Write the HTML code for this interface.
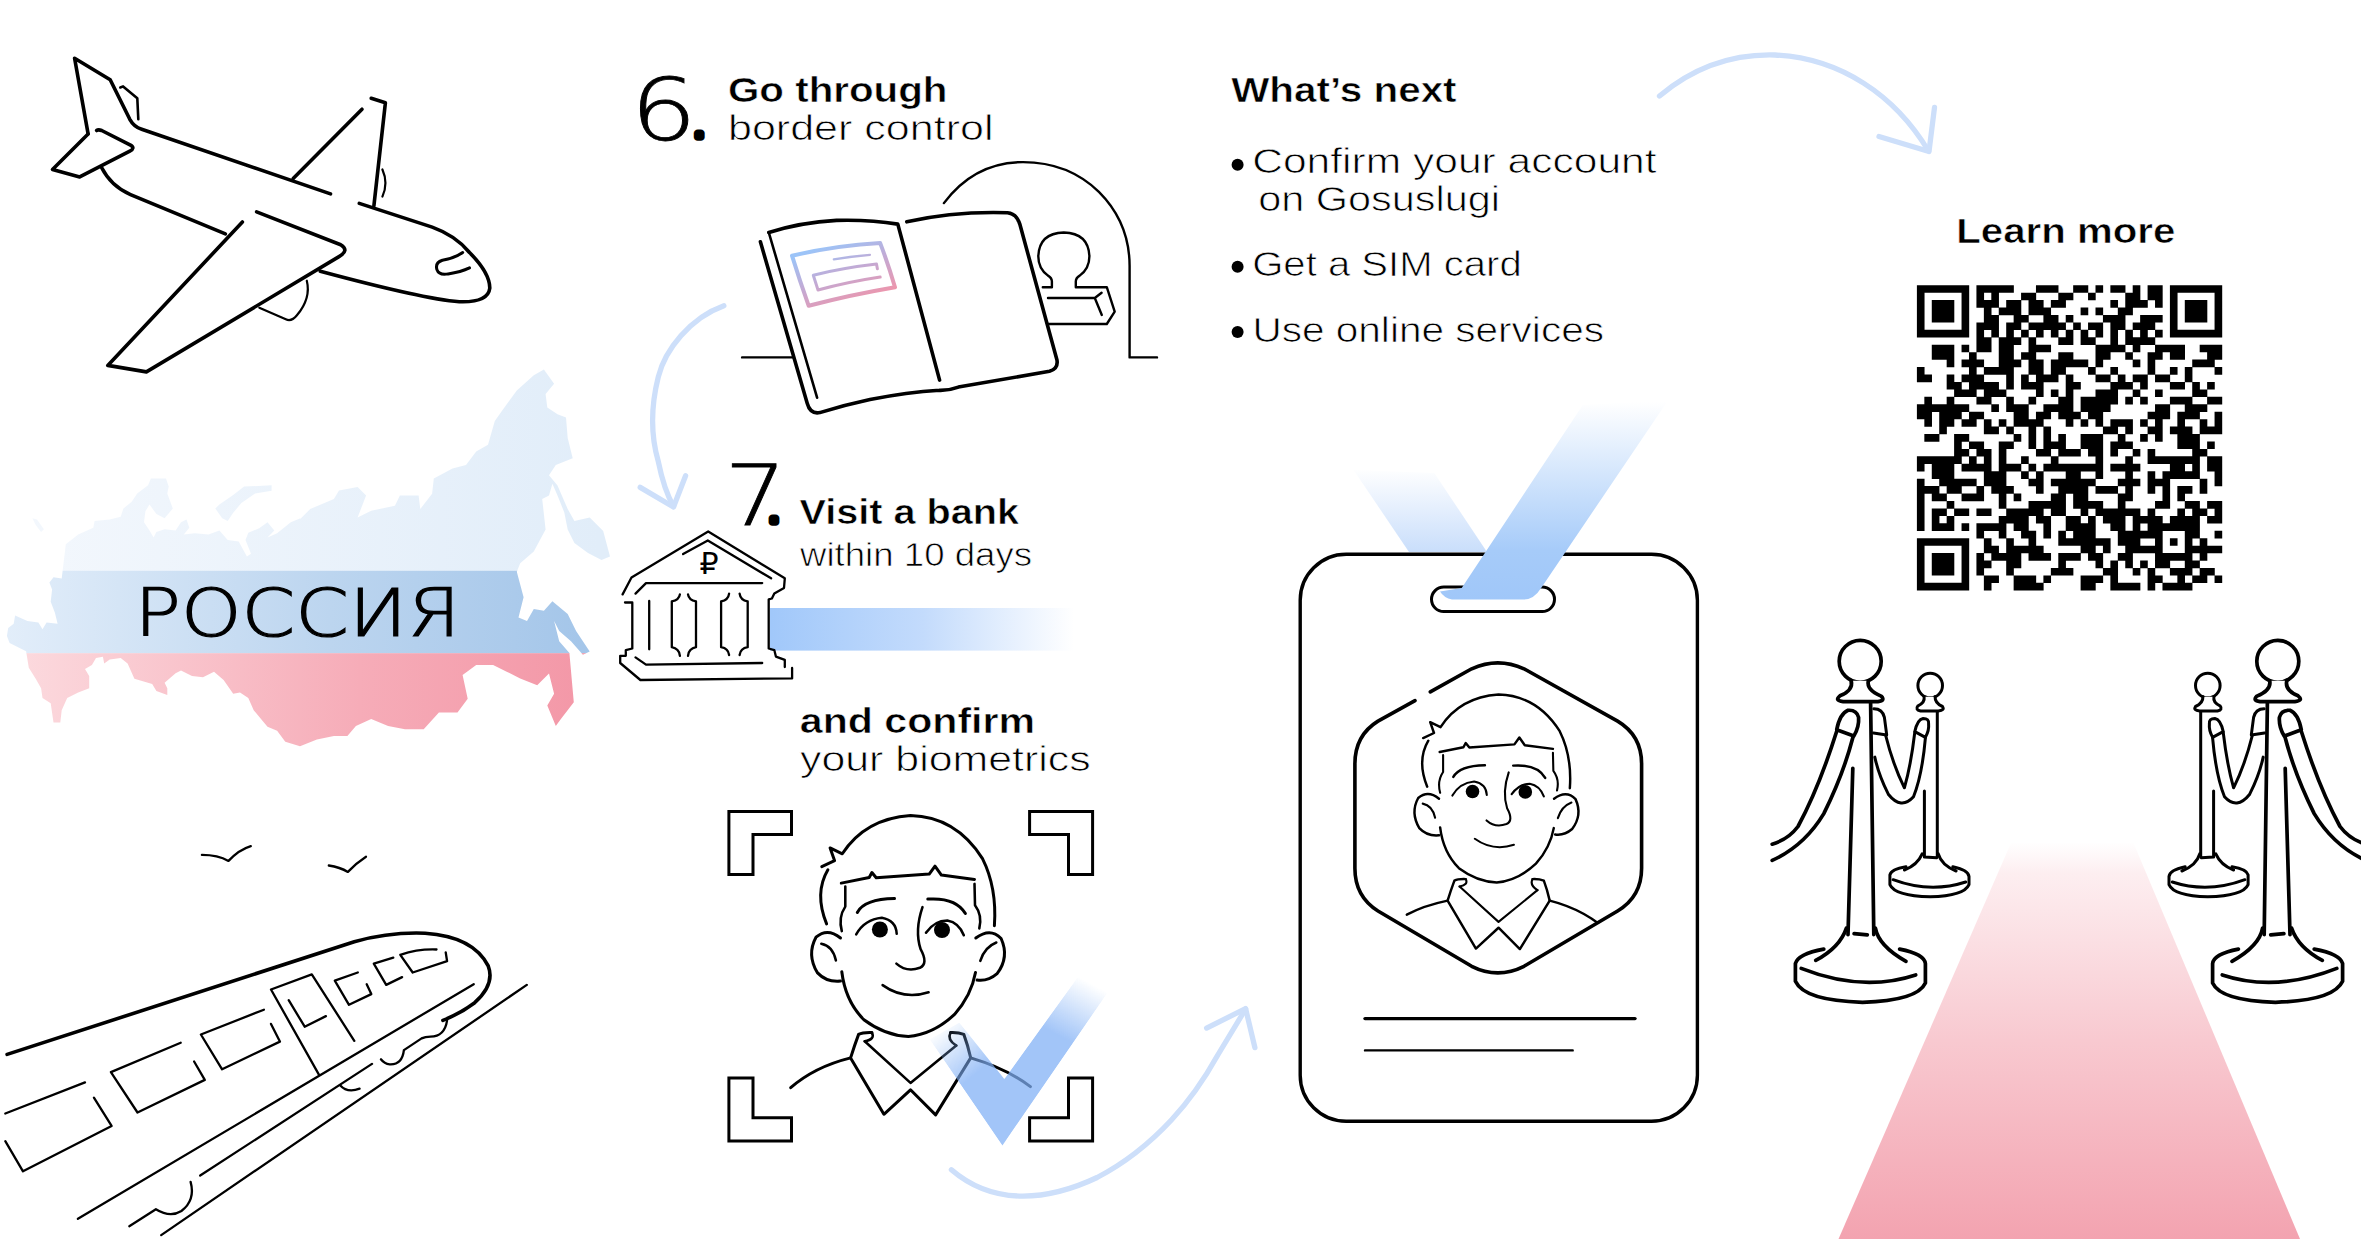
<!DOCTYPE html>
<html lang="en"><head><meta charset="utf-8"><title>Arrival steps</title>
<style>
html,body{margin:0;padding:0;background:#fff;}
body{width:2361px;height:1239px;overflow:hidden;font-family:"Liberation Sans",sans-serif;}
svg{display:block;}
</style></head><body>
<svg width="2361" height="1239" viewBox="0 0 2361 1239">
<defs>
<linearGradient id="gTop" gradientUnits="userSpaceOnUse" x1="0" y1="0" x2="600" y2="0"><stop offset="0" stop-color="#f4f8fd"/><stop offset="1" stop-color="#e1edf9"/></linearGradient>
<linearGradient id="gMid" gradientUnits="userSpaceOnUse" x1="0" y1="0" x2="600" y2="0"><stop offset="0" stop-color="#e3eefa"/><stop offset="0.55" stop-color="#bcd5ef"/><stop offset="1" stop-color="#a3c5e9"/></linearGradient>
<linearGradient id="gBot" gradientUnits="userSpaceOnUse" x1="0" y1="0" x2="600" y2="0"><stop offset="0" stop-color="#fcdce0"/><stop offset="0.6" stop-color="#f6acb8"/><stop offset="1" stop-color="#f396a6"/></linearGradient>
<linearGradient id="gBand" gradientUnits="userSpaceOnUse" x1="772" y1="0" x2="1074" y2="0"><stop offset="0" stop-color="#a1c8fa"/><stop offset="0.5" stop-color="#c3dbfc"/><stop offset="1" stop-color="#ffffff"/></linearGradient>
<linearGradient id="gStamp" gradientUnits="userSpaceOnUse" x1="830" y1="243" x2="855" y2="306"><stop offset="0" stop-color="#9cc4f8"/><stop offset="0.5" stop-color="#c4a9d3"/><stop offset="1" stop-color="#ee95ab"/></linearGradient>
<linearGradient id="gCarpet" gradientUnits="userSpaceOnUse" x1="0" y1="842" x2="0" y2="1239"><stop offset="0" stop-color="#ffffff"/><stop offset="0.08" stop-color="#fdeef0"/><stop offset="0.5" stop-color="#f8c9d0"/><stop offset="1" stop-color="#f3a3b0"/></linearGradient>
<linearGradient id="gStrapR" gradientUnits="userSpaceOnUse" x1="0" y1="600" x2="0" y2="402"><stop offset="0" stop-color="#a0c7f9"/><stop offset="0.25" stop-color="#a6cbf9"/><stop offset="1" stop-color="#a6cbf9" stop-opacity="0"/></linearGradient>
<linearGradient id="gStrapL" gradientUnits="userSpaceOnUse" x1="0" y1="552" x2="0" y2="468"><stop offset="0" stop-color="#c9defb"/><stop offset="1" stop-color="#c9defb" stop-opacity="0"/></linearGradient>
<linearGradient id="gChkR" gradientUnits="userSpaceOnUse" x1="1063" y1="1038" x2="1092" y2="984"><stop offset="0" stop-color="#fff"/><stop offset="1" stop-color="#000"/></linearGradient>
<linearGradient id="gChkL" gradientUnits="userSpaceOnUse" x1="978" y1="1072" x2="941" y2="1027"><stop offset="0" stop-color="#fff"/><stop offset="1" stop-color="#000"/></linearGradient>
</defs>
<clipPath id="mapclip"><path d="M 6.9 636.1 L 8.2 627.9 L 13.7 623.8 L 15.1 615.6 L 27.4 621.0 L 38.4 622.4 L 42.5 629.3 L 46.6 622.4 L 57.6 623.8 L 54.9 612.8 L 50.7 601.8 L 52.1 589.5 L 49.4 582.6 L 53.5 577.2 L 61.7 578.5 L 64.5 555.2 L 65.8 544.2 L 78.2 534.6 L 93.3 527.8 L 94.6 520.9 L 109.7 519.6 L 120.7 516.8 L 123.4 508.6 L 131.7 501.7 L 137.2 493.5 L 148.1 485.3 L 150.9 478.4 L 166.0 478.4 L 168.7 486.6 L 167.3 493.5 L 172.8 508.6 L 164.6 518.2 L 156.4 514.1 L 149.5 504.5 L 145.4 511.3 L 144.0 522.3 L 149.5 530.5 L 153.6 537.4 L 156.4 531.9 L 164.6 529.2 L 175.6 530.5 L 181.0 522.3 L 186.5 519.6 L 189.3 527.8 L 183.8 534.6 L 194.8 533.3 L 208.5 534.6 L 219.4 530.5 L 227.7 540.1 L 238.7 541.5 L 246.9 556.6 L 251.0 553.8 L 245.5 540.1 L 248.3 532.7 L 259.2 528.3 L 267.5 522.3 L 274.3 530.5 L 267.5 537.4 L 277.1 533.3 L 290.8 522.3 L 300.4 518.2 L 300.0 519.2 L 310.2 509.1 L 333.9 498.9 L 339.0 490.4 L 357.6 487.1 L 366.1 495.5 L 357.6 517.5 L 371.2 510.8 L 394.9 505.7 L 399.9 495.5 L 418.6 495.5 L 420.3 509.1 L 432.1 493.8 L 433.8 478.6 L 452.5 468.4 L 466.0 465.0 L 476.2 451.5 L 488.0 444.7 L 494.8 421.0 L 503.3 409.1 L 516.8 390.5 L 533.8 375.2 L 543.9 369.5 L 554.1 383.7 L 545.6 393.9 L 547.3 407.4 L 557.5 414.2 L 566.0 417.6 L 567.7 437.9 L 572.7 458.3 L 555.8 465.0 L 549.0 475.2 L 557.5 485.4 L 567.7 509.1 L 574.4 520.9 L 589.7 517.5 L 603.2 531.1 L 610.0 556.5 L 601.5 559.9 L 588.0 553.1 L 574.4 543.0 L 567.7 529.4 L 564.3 512.5 L 557.5 495.5 L 552.4 483.7 L 549.0 495.5 L 542.2 498.9 L 545.6 529.4 L 533.8 551.4 L 520.2 563.3 L 516.8 571.8 L 523.6 597.2 L 518.5 617.5 L 527.0 620.9 L 533.8 609.0 L 543.9 610.7 L 552.4 601.2 L 567.7 614.1 L 576.1 631.0 L 589.7 651.4 L 582.9 654.8 L 571.0 641.2 L 559.2 631.0 L 554.1 620.9 L 559.2 641.2 L 569.4 653.1 L 573.8 702.2 L 560.9 719.1 L 555.8 725.9 L 547.3 705.6 L 554.1 693.7 L 549.0 673.4 L 537.2 685.3 L 520.2 678.5 L 506.7 671.7 L 493.1 664.9 L 476.2 664.9 L 462.6 675.1 L 467.7 698.8 L 457.5 712.4 L 438.9 712.4 L 423.7 729.3 L 405.0 729.3 L 388.1 725.9 L 371.2 719.1 L 355.9 725.9 L 347.4 736.1 L 333.9 736.1 L 316.9 739.5 L 300.0 746.2 L 285.3 741.7 L 277.1 730.8 L 267.5 726.7 L 260.6 718.4 L 253.7 710.2 L 248.3 697.9 L 240.0 692.4 L 233.2 693.7 L 223.6 680.0 L 214.0 671.8 L 203.0 677.3 L 192.0 675.9 L 181.0 670.4 L 175.6 673.2 L 164.6 682.8 L 167.3 688.3 L 167.3 695.1 L 156.4 691.0 L 152.2 684.1 L 134.4 678.7 L 127.6 663.6 L 120.7 658.1 L 109.7 659.4 L 104.2 663.6 L 102.9 656.7 L 96.0 658.1 L 91.9 664.9 L 85.0 669.0 L 89.2 675.9 L 89.2 688.3 L 78.2 692.4 L 67.2 697.9 L 61.7 710.2 L 60.3 722.5 L 53.5 722.5 L 50.7 703.3 L 42.5 697.9 L 41.1 688.3 L 35.7 678.7 L 28.8 667.7 L 26.1 651.2 L 9.6 643.0 Z M 215.3 508.6 L 219.4 504.5 L 233.2 494.9 L 244.1 486.6 L 271.6 485.3 L 271.6 490.7 L 255.1 493.5 L 241.4 503.1 L 233.2 512.7 L 227.7 520.9 L 222.2 518.2 Z M 32.4 518.2 L 37.0 519.6 L 43.9 529.2 L 41.1 531.9 L 35.7 525.0 Z"/></clipPath>
<g clip-path="url(#mapclip)" stroke-linejoin="round">
<rect x="0" y="360" width="640" height="211" fill="url(#gTop)"/>
<rect x="0" y="570.8" width="640" height="82.6" fill="url(#gMid)"/>
<rect x="0" y="653.2" width="640" height="130" fill="url(#gBot)"/>
</g>
<g id="plane">
<path d="M 88.1 133.9 L 74.6 58.3 L 110.2 79.7 L 129.8 119.3 Q 133.9 126.8 141.7 129.2 L 330.5 193.9" fill="none" stroke="#000" stroke-width="3.6" stroke-linecap="round" stroke-linejoin="round" />
<path d="M 88.1 133.9 L 52.5 169.5 L 79.7 176.9 L 129.8 151.2 Q 135.6 148.1 130.5 145.1 L 101.7 130.5 Q 98.3 129.2 96.6 130.5" fill="none" stroke="#000" stroke-width="3.6" stroke-linecap="round" stroke-linejoin="round" />
<path d="M 120.3 87.5 L 123.1 86.4 L 137.3 98.3 L 138.3 119.3" fill="none" stroke="#000" stroke-width="2.6" stroke-linecap="round" stroke-linejoin="round" />
<path d="M 101.7 167.8 Q 111.2 186.4 130.5 194.6 L 225.4 233.9" fill="none" stroke="#000" stroke-width="3.6" stroke-linecap="round" stroke-linejoin="round" />
<path d="M 359.3 203.4 L 432.2 227.1 Q 455.9 235.6 469.5 252.5 Q 489.8 272.9 489.8 288.1 Q 488.1 302.7 459.3 301.7 Q 423.7 299.0 320.3 271.2" fill="none" stroke="#000" stroke-width="3.6" stroke-linecap="round" stroke-linejoin="round" />
<path d="M 242.4 222.0 L 107.8 365.4 L 146.4 371.9 L 339.0 256.6 Q 349.8 250.2 340.7 244.7 L 256.6 211.9" fill="none" stroke="#000" stroke-width="3.6" stroke-linecap="round" stroke-linejoin="round" />
<path d="M 293.2 178.6 L 362.0 109.2 M 371.2 98.3 L 385.4 102.7 L 373.9 205.8" fill="none" stroke="#000" stroke-width="3.6" stroke-linecap="round" stroke-linejoin="round" />
<path d="M 382.4 169.5 Q 388.5 183.1 382.4 196.6" fill="none" stroke="#000" stroke-width="2.2" stroke-linecap="round" stroke-linejoin="round" />
<path d="M 259.3 307.8 L 285.8 319.3 Q 291.5 322.0 296.9 315.3 Q 311.2 298.3 306.8 280.7" fill="none" stroke="#000" stroke-width="2.2" stroke-linecap="round" stroke-linejoin="round" />
<path d="M 462.7 252.5 Q 454.2 258.3 442.4 260.3 Q 434.9 262.7 436.9 269.5 Q 439.0 275.6 448.1 273.9 Q 461.0 271.9 469.5 267.8" fill="none" stroke="#000" stroke-width="3.0" stroke-linecap="round" stroke-linejoin="round" />
</g>
<g id="train">
<path d="M 7.1 1054.4 L 354.3 941.7 Q 389.7 931.8 425.1 933.2 Q 473.0 936.4 488.2 965.8 Q 495.3 984.2 474.7 1002.7 Q 460.6 1013.3 442.9 1020.4" fill="none" stroke="#000" stroke-width="3.6" stroke-linecap="round" stroke-linejoin="round" />
<path d="M 201.9 854.9 Q 217.9 854.9 228.5 860.9 Q 239.1 849.6 250.8 846.1" fill="none" stroke="#000" stroke-width="2.3" stroke-linecap="round" stroke-linejoin="round" />
<path d="M 328.8 865.5 Q 340.1 867.3 347.9 871.9 Q 356.1 863.1 366.0 856.7" fill="none" stroke="#000" stroke-width="2.3" stroke-linecap="round" stroke-linejoin="round" />
<path d="M 473.7 984.2 L 77.9 1218.8" fill="none" stroke="#000" stroke-width="2.3" stroke-linecap="round" stroke-linejoin="round" />
<path d="M 526.8 984.9 L 161.2 1235.1" fill="none" stroke="#000" stroke-width="2.3" stroke-linecap="round" stroke-linejoin="round" />
<path d="M 447.1 1020.4 Q 444.6 1036.7 430.5 1036.7 Q 425.1 1036.7 421.6 1038.4 L 403.9 1050.1 Q 402.1 1065.0 389.7 1064.3 Q 384.4 1063.9 380.9 1059.3" fill="none" stroke="#000" stroke-width="2.3" stroke-linecap="round" stroke-linejoin="round" />
<path d="M 372.0 1063.9 L 200.2 1175.5" fill="none" stroke="#000" stroke-width="2.3" stroke-linecap="round" stroke-linejoin="round" />
<path d="M 340.1 1085.2 Q 347.2 1093.3 359.6 1088.7" fill="none" stroke="#000" stroke-width="2.3" stroke-linecap="round" stroke-linejoin="round" />
<path d="M 190.6 1181.9 Q 195.6 1200.3 181.4 1211.0 Q 170.1 1218.1 155.9 1209.2 L 129.3 1226.2" fill="none" stroke="#000" stroke-width="2.3" stroke-linecap="round" stroke-linejoin="round" />
<path d="M 5.3 1113.5 L 85.0 1082.4 M 93.9 1097.6 L 111.6 1125.9 L 23.0 1171.3 L 5.3 1141.2" fill="none" stroke="#000" stroke-width="2.3" stroke-linecap="round" stroke-linejoin="round" />
<path d="M 180.7 1042.7 L 110.9 1072.1 L 137.5 1112.5 L 204.8 1079.9 L 194.1 1061.5" fill="none" stroke="#000" stroke-width="2.3" stroke-linecap="round" stroke-linejoin="round" />
<path d="M 263.9 1009.7 L 200.9 1034.5 L 222.1 1069.3 L 279.9 1041.6 L 271.0 1023.9" fill="none" stroke="#000" stroke-width="2.3" stroke-linecap="round" stroke-linejoin="round" />
<path d="M 318.9 1074.6 L 271.0 989.5 L 311.8 974.3 L 354.3 1040.9" fill="none" stroke="#000" stroke-width="2.3" stroke-linecap="round" stroke-linejoin="round" />
<path d="M 288.7 1000.2 L 304.7 1026.7 L 325.9 1016.1" fill="none" stroke="#000" stroke-width="2.3" stroke-linecap="round" stroke-linejoin="round" />
<path d="M 357.8 972.5 L 334.8 980.7 L 349.0 1004.8 L 371.3 994.1 L 366.7 984.2" fill="none" stroke="#000" stroke-width="2.3" stroke-linecap="round" stroke-linejoin="round" />
<path d="M 393.3 957.7 L 373.8 963.7 L 386.2 984.9 L 402.1 977.1" fill="none" stroke="#000" stroke-width="2.3" stroke-linecap="round" stroke-linejoin="round" />
<path d="M 445.7 952.3 L 447.1 961.2 L 412.7 972.5 L 400.3 954.8 Q 418.1 948.8 436.5 949.5" fill="none" stroke="#000" stroke-width="2.3" stroke-linecap="round" stroke-linejoin="round" />
</g>
<g id="passport">
<path d="M 742.1 357.4 L 792.8 357.4" fill="none" stroke="#000" stroke-width="2.4" stroke-linecap="round" stroke-linejoin="round" />
<path d="M 943.9 203.1 Q 974.6 162.1 1023.0 162.1 Q 1068.2 162.1 1098.9 191.8 Q 1129.6 222.5 1129.6 266.0 L 1129.6 357.4 L 1157.0 357.4" fill="none" stroke="#000" stroke-width="2.4" stroke-linecap="round" stroke-linejoin="round" />
<path d="M 1042.8 287.2 L 1051.9 287.2 L 1051.9 281.5 Q 1051.9 277.9 1048.0 275.6 Q 1038.3 268.6 1038.3 256.2 Q 1039.2 233.2 1063.8 232.5 Q 1088.5 233.2 1089.4 256.2 Q 1089.4 268.6 1079.7 275.6 Q 1075.8 277.9 1075.8 281.5 L 1075.8 287.2 L 1106.8 287.2 L 1114.7 311.6 L 1106.8 324.0 L 1048.0 324.0" fill="none" stroke="#000" stroke-width="2.4" stroke-linecap="round" stroke-linejoin="round" />
<path d="M 1048.0 298.0 L 1094.8 298.0 L 1101.6 292.8 M 1094.8 298.0 L 1101.8 315.0" fill="none" stroke="#000" stroke-width="2.4" stroke-linecap="round" stroke-linejoin="round" />
<path d="M 769.5 232.1 Q 832.5 216.0 897.1 225.7 L 906.8 221.8 Q 955.2 211.1 1007.5 212.8 Q 1016.6 213.7 1019.8 224.1 L 1056.9 359.7 Q 1058.6 368.7 1049.5 371.3 L 939.1 390.4 L 819.6 413.0 Q 811.5 414.6 809.3 404.9 L 760.5 241.8 Z" fill="#fff" stroke="none"/>
<path d="M 760.4 241.8 L 807.2 403.3 Q 810.2 414.4 819.8 412.6 Q 844.0 405.2 870.0 399.6 Q 907.1 392.2 939.6 390.3 L 939.1 390.4 Q 948.8 390.7 958.4 387.1 L 1049.5 371.3 Q 1058.6 368.7 1056.9 359.7 L 1019.8 224.1 Q 1016.6 213.7 1007.5 212.8 Q 955.2 211.1 906.8 221.8" fill="none" stroke="#000" stroke-width="3.6" stroke-linecap="round" stroke-linejoin="round" />
<path d="M 768.8 232.5 Q 801.3 222.3 836.5 220.4 Q 870.0 219.5 897.8 224.1 L 939.6 380.1" fill="none" stroke="#000" stroke-width="3.6" stroke-linecap="round" stroke-linejoin="round" />
<path d="M 768.8 232.5 L 817.1 397.7" fill="none" stroke="#000" stroke-width="2.6" stroke-linecap="round" stroke-linejoin="round" />
<path d="M 792.0 255.7 Q 836.5 245.5 880.2 243.1 Q 888.5 265.0 895.0 287.3 Q 851.4 294.7 808.7 305.8 Q 799.4 279.8 792.0 255.7 Z" fill="none" stroke="url(#gStamp)" stroke-width="4.0" stroke-linecap="round" stroke-linejoin="round" />
<path d="M 877.4 268.7 L 876.5 264.1 Q 844.0 267.8 813.3 275.2 L 818.0 290.0 Q 849.5 281.7 880.2 277.1" fill="none" stroke="url(#gStamp)" stroke-width="3.0" stroke-linecap="round" stroke-linejoin="round" />
<path d="M 833.8 259.4 Q 851.4 256.3 870.0 254.8" fill="none" stroke="url(#gStamp)" stroke-width="2.2" stroke-linecap="round" stroke-linejoin="round" />
</g>
<g id="arrows">
<path d="M 723.9 305.8 C 690 318 665 350 658.3 376.9 C 650 410 652 440 658.3 461.6 C 662 480 667 495 673.5 506.5" fill="none" stroke="#cddffa" stroke-width="5.3" stroke-linecap="round" stroke-linejoin="round" />
<path d="M 640.2 487.4 L 673.5 507 L 685.6 475.7" fill="none" stroke="#cddffa" stroke-width="5.3" stroke-linecap="round" stroke-linejoin="round" />
<path d="M 951.4 1169.7 C 975 1190 1000 1196 1022.8 1196.1 C 1050 1196 1075 1188 1097.1 1177.5 C 1125 1163 1150 1143 1171.4 1120 C 1190 1100 1205 1078 1217.8 1055 C 1228 1038 1237 1023 1245.6 1009" fill="none" stroke="#cddffa" stroke-width="5.3" stroke-linecap="round" stroke-linejoin="round" />
<path d="M 1206.6 1028.1 L 1245.6 1008.6 L 1254.9 1047.6" fill="none" stroke="#cddffa" stroke-width="5.3" stroke-linecap="round" stroke-linejoin="round" />
<path d="M 1659.5 96 C 1700 62 1740 54 1775 55 C 1840 58 1895 95 1928.5 151" fill="none" stroke="#cddffa" stroke-width="5.3" stroke-linecap="round" stroke-linejoin="round" />
<path d="M 1879 136.5 L 1929 151.5 L 1934.5 107.5" fill="none" stroke="#cddffa" stroke-width="5.3" stroke-linecap="round" stroke-linejoin="round" />
</g>
<g id="bank">
<rect x="770" y="608" width="305" height="42.6" fill="url(#gBand)"/>
<path d="M 622.6 594.4 L 631.5 577.5 L 708.2 531.5 L 784.8 578.3 L 784.0 588.0 L 774.3 593.6 L 771.9 598.5 L 768.7 599.3 L 768.7 648.5 L 774.3 650.1 L 775.9 656.6 L 784.8 659.8 L 784.8 667.1" fill="none" stroke="#000" stroke-width="2.3" stroke-linecap="round" stroke-linejoin="round" />
<path d="M 683.1 554.1 L 707.8 540.4 L 771.1 578.3" fill="none" stroke="#000" stroke-width="2.3" stroke-linecap="round" stroke-linejoin="round" />
<path d="M 635.5 593.6 L 646.0 583.1 L 762.2 583.1" fill="none" stroke="#000" stroke-width="2.3" stroke-linecap="round" stroke-linejoin="round" />
<path d="M 625.0 602.5 L 632.3 602.5 L 632.3 648.5 L 625.8 650.1 L 625.8 655.8 L 620.2 655.8 L 620.2 663.0 L 640.4 680.0 L 792.1 678.4 L 792.1 667.9" fill="none" stroke="#000" stroke-width="2.3" stroke-linecap="round" stroke-linejoin="round" />
<path d="M 649.2 600.9 L 649.2 649.3" fill="none" stroke="#000" stroke-width="2.3" stroke-linecap="round" stroke-linejoin="round" />
<path d="M 679.9 594.4 Q 679.1 600.1 671.8 601.4 L 671.8 647.2 Q 679.1 648.5 679.9 655.8" fill="none" stroke="#000" stroke-width="2.3" stroke-linecap="round" stroke-linejoin="round" />
<path d="M 688.0 594.4 Q 688.8 600.1 696.0 601.4 L 696.0 647.2 Q 688.8 648.5 688.0 655.8" fill="none" stroke="#000" stroke-width="2.3" stroke-linecap="round" stroke-linejoin="round" />
<path d="M 729.1 593.6 Q 728.3 600.1 721.1 601.4 L 721.1 647.2 Q 728.3 648.5 729.1 655.0" fill="none" stroke="#000" stroke-width="2.3" stroke-linecap="round" stroke-linejoin="round" />
<path d="M 739.6 593.6 Q 740.4 600.1 747.7 601.4 L 747.7 647.2 Q 740.4 648.5 739.6 655.0" fill="none" stroke="#000" stroke-width="2.3" stroke-linecap="round" stroke-linejoin="round" />
<path d="M 635.5 657.4 L 646.0 664.6 L 762.2 663.0" fill="none" stroke="#000" stroke-width="2.3" stroke-linecap="round" stroke-linejoin="round" />
<text x="709" y="574.3" font-family="'DejaVu Sans', 'Liberation Sans', sans-serif" font-size="30" text-anchor="middle" fill="#000">₽</text>
</g>
<g id="facebio">
<path d="M 728.9 811.5 L 791.5 811.5 L 791.5 834.4 L 753 834.4 L 753 874.4 L 728.9 874.4 Z" fill="none" stroke="#000" stroke-width="3" stroke-linejoin="miter"/>
<path d="M 1029.6 811.5 L 1092.6 811.5 L 1092.6 874.4 L 1068.5 874.4 L 1068.5 834.4 L 1029.6 834.4 Z" fill="none" stroke="#000" stroke-width="3" stroke-linejoin="miter"/>
<path d="M 728.9 1078.1 L 753 1078.1 L 753 1117.8 L 791.5 1117.8 L 791.5 1141.1 L 728.9 1141.1 Z" fill="none" stroke="#000" stroke-width="3" stroke-linejoin="miter"/>
<path d="M 1068.5 1078.1 L 1092.6 1078.1 L 1092.6 1141.1 L 1029.6 1141.1 L 1029.6 1117.8 L 1068.5 1117.8 Z" fill="none" stroke="#000" stroke-width="3" stroke-linejoin="miter"/>
<g id="facecore">
<path d="M 826.6 923.9 Q 814.1 893.2 827.9 869.8 M 821.8 866.6 L 834.6 860.7 L 830.1 847.9 L 842.3 853.8 Q 865.2 818.6 910.5 815.5 Q 955.8 816.5 982.5 858.6 Q 997.1 887.9 994.4 925.7" fill="none" stroke="#000" stroke-width="3.0" stroke-linecap="round" stroke-linejoin="round" />
<path d="M 841.3 883.1 L 869.2 877.5 L 871.9 872.5 L 876.2 877.8 L 929.2 874.1 L 935.0 866.1 L 941.4 875.1 L 974.5 879.4" fill="none" stroke="#000" stroke-width="3.0" stroke-linecap="round" stroke-linejoin="round" />
<path d="M 845.3 886.6 L 845.3 906.6 Q 838.1 917.2 841.8 931.1" fill="none" stroke="#000" stroke-width="2.55" stroke-linecap="round" stroke-linejoin="round" />
<path d="M 974.5 883.9 L 975.0 905.2 Q 982.5 915.1 979.3 928.4" fill="none" stroke="#000" stroke-width="2.55" stroke-linecap="round" stroke-linejoin="round" />
<path d="M 840.5 938.0 Q 827.4 927.3 816.0 937.2 Q 806.6 954.5 817.3 972.6 Q 826.6 982.5 840.5 981.1" fill="none" stroke="#000" stroke-width="3.0" stroke-linecap="round" stroke-linejoin="round" />
<path d="M 821.3 943.8 Q 832.7 946.0 835.9 960.4" fill="none" stroke="#000" stroke-width="2.55" stroke-linecap="round" stroke-linejoin="round" />
<path d="M 975.8 938.0 Q 990.4 927.3 1001.1 938.5 Q 1009.6 957.2 997.1 973.7 Q 987.8 981.7 977.1 980.1" fill="none" stroke="#000" stroke-width="3.0" stroke-linecap="round" stroke-linejoin="round" />
<path d="M 996.3 942.5 Q 984.6 947.0 980.3 960.9" fill="none" stroke="#000" stroke-width="2.55" stroke-linecap="round" stroke-linejoin="round" />
<path d="M 841.8 971.8 Q 845.3 1001.1 863.9 1019.8 Q 885.2 1035.7 908.4 1036.5 Q 933.2 1034.4 954.5 1014.4 Q 971.3 995.8 975.5 972.6" fill="none" stroke="#000" stroke-width="3.0" stroke-linecap="round" stroke-linejoin="round" />
<path d="M 857.3 912.4 Q 864.7 899.1 894.5 898.6" fill="none" stroke="#000" stroke-width="3.0" stroke-linecap="round" stroke-linejoin="round" />
<path d="M 927.8 899.1 Q 955.8 897.2 965.4 913.5" fill="none" stroke="#000" stroke-width="3.0" stroke-linecap="round" stroke-linejoin="round" />
<circle cx="879.9" cy="929.5" r="8.0" fill="#000"/>
<circle cx="942.0" cy="930.0" r="8.0" fill="#000"/>
<path d="M 856.2 934.3 Q 864.7 919.3 881.8 917.7 Q 896.1 920.4 896.7 933.7" fill="none" stroke="#000" stroke-width="2.55" stroke-linecap="round" stroke-linejoin="round" />
<path d="M 926.0 932.7 Q 934.5 920.4 947.3 920.4 Q 959.0 922.5 963.8 935.3" fill="none" stroke="#000" stroke-width="2.55" stroke-linecap="round" stroke-linejoin="round" />
<path d="M 922.5 907.1 Q 914.5 930.5 920.6 949.2 Q 928.6 963.8 919.9 967.8 Q 906.5 972.6 896.4 963.6" fill="none" stroke="#000" stroke-width="2.55" stroke-linecap="round" stroke-linejoin="round" />
<path d="M 882.6 985.1 Q 903.9 1000.3 928.6 992.3" fill="none" stroke="#000" stroke-width="2.55" stroke-linecap="round" stroke-linejoin="round" />
<path d="M 871.9 1032.6 Q 862.6 1032.3 858.6 1034.4 Q 854.6 1045.1 850.6 1057.9 L 883.9 1114.3 L 910.5 1089.8 L 935.6 1114.9 L 970.7 1057.9 Q 967.8 1045.1 963.8 1034.4 Q 958.5 1032.3 950.5 1032.6" fill="none" stroke="#000" stroke-width="3.0" stroke-linecap="round" stroke-linejoin="round" />
<path d="M 864.7 1041.3 L 910.5 1082.9 L 956.3 1045.6" fill="none" stroke="#000" stroke-width="2.55" stroke-linecap="round" stroke-linejoin="round" />
<path d="M 871.9 1032.6 Q 875.4 1039.2 864.7 1041.3 M 950.5 1032.6 Q 946.8 1039.7 956.3 1045.6" fill="none" stroke="#000" stroke-width="2.55" stroke-linecap="round" stroke-linejoin="round" />
</g>
<path d="M 850.6 1057.9 Q 814.6 1066.9 790.7 1087.7" fill="none" stroke="#000" stroke-width="3.0" stroke-linecap="round" stroke-linejoin="round" />
<path d="M 970.7 1057.9 Q 1006.4 1068.5 1030.4 1086.6" fill="none" stroke="#000" stroke-width="3.0" stroke-linecap="round" stroke-linejoin="round" />
<mask id="chkmask" maskUnits="userSpaceOnUse" x="900" y="950" width="240" height="220"><path d="M 929.6 1039.3 L 959.3 1022.6 L 1006.5 1079.1 L 1006.5 1146 L 1002.4 1146 Z" fill="url(#gChkL)"/><path d="M 1004.3 1079.1 L 1079.6 974.4 L 1107.4 993 L 1002.4 1146 Z" fill="url(#gChkR)"/></mask>
<path d="M 929.6 1039.3 L 959.3 1022.6 L 1004.3 1079.1 L 1079.6 974.4 L 1107.4 993 L 1002.4 1145.5 Z" fill="#80b0f5" fill-opacity="0.73" mask="url(#chkmask)"/>
</g>
<g id="badge">
<path d="M 1353.6 470 L 1434.3 473 L 1487 552 L 1409 552 Z" fill="url(#gStrapL)"/>
<rect x="1300.2" y="554.3" width="397.2" height="567" rx="46" ry="46" fill="#fff" stroke="#000" stroke-width="3.4"/>
<rect x="1431.5" y="587" width="123" height="24.6" rx="12.3" ry="12.3" fill="#fff" stroke="#000" stroke-width="3"/>
<path d="M 1582.8 405 L 1668.3 400 L 1541.5 587.5 Q 1534 599.5 1524 599.5 L 1452 599.5 Q 1444 598 1440 591.5 L 1461.7 588 Z" fill="url(#gStrapR)"/>
<path d="M 1365 1018.6 L 1635 1018.6" stroke="#000" stroke-width="3.4" stroke-linecap="round"/>
<path d="M 1365 1050.4 L 1572.7 1050.4" stroke="#000" stroke-width="2.4" stroke-linecap="round"/>
<path d="M 1430.3 691.9 L 1471.7 668.8 Q 1497.8 657.0 1524.0 668.8 L 1617.6 721.1 Q 1641.6 735.4 1641.6 763.8 L 1641.6 868.3 Q 1641.6 896.6 1617.6 911.0 L 1524.0 966.3 Q 1497.8 979.4 1471.7 966.3 L 1378.0 911.0 Q 1354.9 896.6 1354.9 868.3 L 1354.9 763.8 Q 1354.9 735.4 1378.0 721.1 L 1415.0 700.6" fill="none" stroke="#000" stroke-width="3.6" stroke-linecap="round" stroke-linejoin="round" />
<clipPath id="hexclip"><path d="M 1471.7 668.8 Q 1497.8 657.0 1524.0 668.8 L 1617.6 721.1 Q 1641.6 735.4 1641.6 763.8 L 1641.6 868.3 Q 1641.6 896.6 1617.6 911.0 L 1524.0 966.3 Q 1497.8 979.4 1471.7 966.3 L 1378.0 911.0 Q 1354.9 896.6 1354.9 868.3 L 1354.9 763.8 Q 1354.9 735.4 1378.0 721.1 Z"/></clipPath>
<g clip-path="url(#hexclip)"><g transform="translate(724.6 1.4) scale(0.85)">
<path d="M 826.6 923.9 Q 814.1 893.2 827.9 869.8 M 821.8 866.6 L 834.6 860.7 L 830.1 847.9 L 842.3 853.8 Q 865.2 818.6 910.5 815.5 Q 955.8 816.5 982.5 858.6 Q 997.1 887.9 994.4 925.7" fill="none" stroke="#000" stroke-width="2.9" stroke-linecap="round" stroke-linejoin="round" />
<path d="M 841.3 883.1 L 869.2 877.5 L 871.9 872.5 L 876.2 877.8 L 929.2 874.1 L 935.0 866.1 L 941.4 875.1 L 974.5 879.4" fill="none" stroke="#000" stroke-width="2.9" stroke-linecap="round" stroke-linejoin="round" />
<path d="M 845.3 886.6 L 845.3 906.6 Q 838.1 917.2 841.8 931.1" fill="none" stroke="#000" stroke-width="2.465" stroke-linecap="round" stroke-linejoin="round" />
<path d="M 974.5 883.9 L 975.0 905.2 Q 982.5 915.1 979.3 928.4" fill="none" stroke="#000" stroke-width="2.465" stroke-linecap="round" stroke-linejoin="round" />
<path d="M 840.5 938.0 Q 827.4 927.3 816.0 937.2 Q 806.6 954.5 817.3 972.6 Q 826.6 982.5 840.5 981.1" fill="none" stroke="#000" stroke-width="2.9" stroke-linecap="round" stroke-linejoin="round" />
<path d="M 821.3 943.8 Q 832.7 946.0 835.9 960.4" fill="none" stroke="#000" stroke-width="2.465" stroke-linecap="round" stroke-linejoin="round" />
<path d="M 975.8 938.0 Q 990.4 927.3 1001.1 938.5 Q 1009.6 957.2 997.1 973.7 Q 987.8 981.7 977.1 980.1" fill="none" stroke="#000" stroke-width="2.9" stroke-linecap="round" stroke-linejoin="round" />
<path d="M 996.3 942.5 Q 984.6 947.0 980.3 960.9" fill="none" stroke="#000" stroke-width="2.465" stroke-linecap="round" stroke-linejoin="round" />
<path d="M 841.8 971.8 Q 845.3 1001.1 863.9 1019.8 Q 885.2 1035.7 908.4 1036.5 Q 933.2 1034.4 954.5 1014.4 Q 971.3 995.8 975.5 972.6" fill="none" stroke="#000" stroke-width="2.9" stroke-linecap="round" stroke-linejoin="round" />
<path d="M 857.3 912.4 Q 864.7 899.1 894.5 898.6" fill="none" stroke="#000" stroke-width="2.9" stroke-linecap="round" stroke-linejoin="round" />
<path d="M 927.8 899.1 Q 955.8 897.2 965.4 913.5" fill="none" stroke="#000" stroke-width="2.9" stroke-linecap="round" stroke-linejoin="round" />
<circle cx="879.9" cy="929.5" r="8.0" fill="#000"/>
<circle cx="942.0" cy="930.0" r="8.0" fill="#000"/>
<path d="M 856.2 934.3 Q 864.7 919.3 881.8 917.7 Q 896.1 920.4 896.7 933.7" fill="none" stroke="#000" stroke-width="2.465" stroke-linecap="round" stroke-linejoin="round" />
<path d="M 926.0 932.7 Q 934.5 920.4 947.3 920.4 Q 959.0 922.5 963.8 935.3" fill="none" stroke="#000" stroke-width="2.465" stroke-linecap="round" stroke-linejoin="round" />
<path d="M 922.5 907.1 Q 914.5 930.5 920.6 949.2 Q 928.6 963.8 919.9 967.8 Q 906.5 972.6 896.4 963.6" fill="none" stroke="#000" stroke-width="2.465" stroke-linecap="round" stroke-linejoin="round" />
<path d="M 882.6 985.1 Q 903.9 1000.3 928.6 992.3" fill="none" stroke="#000" stroke-width="2.465" stroke-linecap="round" stroke-linejoin="round" />
<path d="M 871.9 1032.6 Q 862.6 1032.3 858.6 1034.4 Q 854.6 1045.1 850.6 1057.9 L 883.9 1114.3 L 910.5 1089.8 L 935.6 1114.9 L 970.7 1057.9 Q 967.8 1045.1 963.8 1034.4 Q 958.5 1032.3 950.5 1032.6" fill="none" stroke="#000" stroke-width="2.9" stroke-linecap="round" stroke-linejoin="round" />
<path d="M 864.7 1041.3 L 910.5 1082.9 L 956.3 1045.6" fill="none" stroke="#000" stroke-width="2.465" stroke-linecap="round" stroke-linejoin="round" />
<path d="M 871.9 1032.6 Q 875.4 1039.2 864.7 1041.3 M 950.5 1032.6 Q 946.8 1039.7 956.3 1045.6" fill="none" stroke="#000" stroke-width="2.465" stroke-linecap="round" stroke-linejoin="round" />
<path d="M 850.6 1057.9 Q 822.6 1063.7 802.6 1074.4" fill="none" stroke="#000" stroke-width="2.9" stroke-linecap="round" stroke-linejoin="round" />
<path d="M 970.7 1057.9 Q 1014.4 1069.0 1043.7 1098.3" fill="none" stroke="#000" stroke-width="2.9" stroke-linecap="round" stroke-linejoin="round" />
</g></g>
</g>
<g id="qr"><path d="M1916.90 285.20h52.29v7.64h-52.29zM1976.43 285.20h37.41v7.64h-37.41zM2035.96 285.20h22.52v7.64h-22.52zM2073.17 285.20h15.08v7.64h-15.08zM2095.50 285.20h7.64v7.64h-7.64zM2110.38 285.20h15.08v7.64h-15.08zM2132.70 285.20h7.64v7.64h-7.64zM2147.59 285.20h15.08v7.64h-15.08zM2169.91 285.20h52.29v7.64h-52.29zM1916.90 292.64h7.64v7.64h-7.64zM1961.55 292.64h7.64v7.64h-7.64zM1976.43 292.64h7.64v7.64h-7.64zM1991.31 292.64h7.64v7.64h-7.64zM2021.08 292.64h15.08v7.64h-15.08zM2058.29 292.64h15.08v7.64h-15.08zM2088.05 292.64h7.64v7.64h-7.64zM2125.26 292.64h15.08v7.64h-15.08zM2147.59 292.64h15.08v7.64h-15.08zM2169.91 292.64h7.64v7.64h-7.64zM2214.56 292.64h7.64v7.64h-7.64zM1916.90 300.08h7.64v7.64h-7.64zM1931.78 300.08h22.52v7.64h-22.52zM1961.55 300.08h7.64v7.64h-7.64zM1976.43 300.08h22.52v7.64h-22.52zM2006.20 300.08h15.08v7.64h-15.08zM2028.52 300.08h15.08v7.64h-15.08zM2050.85 300.08h15.08v7.64h-15.08zM2110.38 300.08h7.64v7.64h-7.64zM2125.26 300.08h22.52v7.64h-22.52zM2155.03 300.08h7.64v7.64h-7.64zM2169.91 300.08h7.64v7.64h-7.64zM2184.79 300.08h22.52v7.64h-22.52zM2214.56 300.08h7.64v7.64h-7.64zM1916.90 307.52h7.64v7.64h-7.64zM1931.78 307.52h22.52v7.64h-22.52zM1961.55 307.52h7.64v7.64h-7.64zM1983.87 307.52h7.64v7.64h-7.64zM1998.76 307.52h22.52v7.64h-22.52zM2028.52 307.52h22.52v7.64h-22.52zM2080.61 307.52h7.64v7.64h-7.64zM2095.50 307.52h7.64v7.64h-7.64zM2117.82 307.52h15.08v7.64h-15.08zM2169.91 307.52h7.64v7.64h-7.64zM2184.79 307.52h22.52v7.64h-22.52zM2214.56 307.52h7.64v7.64h-7.64zM1916.90 314.97h7.64v7.64h-7.64zM1931.78 314.97h22.52v7.64h-22.52zM1961.55 314.97h7.64v7.64h-7.64zM1983.87 314.97h15.08v7.64h-15.08zM2013.64 314.97h15.08v7.64h-15.08zM2043.40 314.97h15.08v7.64h-15.08zM2065.73 314.97h7.64v7.64h-7.64zM2102.94 314.97h22.52v7.64h-22.52zM2140.14 314.97h22.52v7.64h-22.52zM2169.91 314.97h7.64v7.64h-7.64zM2184.79 314.97h22.52v7.64h-22.52zM2214.56 314.97h7.64v7.64h-7.64zM1916.90 322.41h7.64v7.64h-7.64zM1961.55 322.41h7.64v7.64h-7.64zM1976.43 322.41h22.52v7.64h-22.52zM2006.20 322.41h15.08v7.64h-15.08zM2028.52 322.41h37.41v7.64h-37.41zM2073.17 322.41h7.64v7.64h-7.64zM2088.05 322.41h15.08v7.64h-15.08zM2110.38 322.41h15.08v7.64h-15.08zM2132.70 322.41h22.52v7.64h-22.52zM2169.91 322.41h7.64v7.64h-7.64zM2214.56 322.41h7.64v7.64h-7.64zM1916.90 329.85h52.29v7.64h-52.29zM1976.43 329.85h7.64v7.64h-7.64zM1991.31 329.85h7.64v7.64h-7.64zM2006.20 329.85h7.64v7.64h-7.64zM2021.08 329.85h7.64v7.64h-7.64zM2035.96 329.85h7.64v7.64h-7.64zM2050.85 329.85h7.64v7.64h-7.64zM2065.73 329.85h7.64v7.64h-7.64zM2080.61 329.85h7.64v7.64h-7.64zM2095.50 329.85h7.64v7.64h-7.64zM2110.38 329.85h7.64v7.64h-7.64zM2125.26 329.85h7.64v7.64h-7.64zM2140.14 329.85h7.64v7.64h-7.64zM2155.03 329.85h7.64v7.64h-7.64zM2169.91 329.85h52.29v7.64h-52.29zM1976.43 337.29h15.08v7.64h-15.08zM1998.76 337.29h22.52v7.64h-22.52zM2028.52 337.29h7.64v7.64h-7.64zM2058.29 337.29h15.08v7.64h-15.08zM2080.61 337.29h15.08v7.64h-15.08zM2110.38 337.29h7.64v7.64h-7.64zM2125.26 337.29h29.97v7.64h-29.97zM1931.78 344.73h22.52v7.64h-22.52zM1961.55 344.73h7.64v7.64h-7.64zM1976.43 344.73h15.08v7.64h-15.08zM1998.76 344.73h15.08v7.64h-15.08zM2028.52 344.73h22.52v7.64h-22.52zM2095.50 344.73h29.97v7.64h-29.97zM2132.70 344.73h7.64v7.64h-7.64zM2155.03 344.73h29.97v7.64h-29.97zM2199.68 344.73h22.52v7.64h-22.52zM1931.78 352.17h22.52v7.64h-22.52zM1968.99 352.17h7.64v7.64h-7.64zM1998.76 352.17h15.08v7.64h-15.08zM2021.08 352.17h15.08v7.64h-15.08zM2058.29 352.17h15.08v7.64h-15.08zM2095.50 352.17h15.08v7.64h-15.08zM2125.26 352.17h7.64v7.64h-7.64zM2147.59 352.17h15.08v7.64h-15.08zM2169.91 352.17h15.08v7.64h-15.08zM2207.12 352.17h15.08v7.64h-15.08zM1946.67 359.61h7.64v7.64h-7.64zM1961.55 359.61h22.52v7.64h-22.52zM1998.76 359.61h22.52v7.64h-22.52zM2028.52 359.61h15.08v7.64h-15.08zM2050.85 359.61h37.41v7.64h-37.41zM2095.50 359.61h7.64v7.64h-7.64zM2132.70 359.61h7.64v7.64h-7.64zM2147.59 359.61h7.64v7.64h-7.64zM2192.23 359.61h22.52v7.64h-22.52zM1916.90 367.06h7.64v7.64h-7.64zM1968.99 367.06h7.64v7.64h-7.64zM1983.87 367.06h29.97v7.64h-29.97zM2028.52 367.06h15.08v7.64h-15.08zM2050.85 367.06h15.08v7.64h-15.08zM2088.05 367.06h7.64v7.64h-7.64zM2110.38 367.06h7.64v7.64h-7.64zM2147.59 367.06h7.64v7.64h-7.64zM2169.91 367.06h7.64v7.64h-7.64zM2184.79 367.06h7.64v7.64h-7.64zM2214.56 367.06h7.64v7.64h-7.64zM1916.90 374.50h15.08v7.64h-15.08zM1946.67 374.50h7.64v7.64h-7.64zM1961.55 374.50h22.52v7.64h-22.52zM2006.20 374.50h7.64v7.64h-7.64zM2021.08 374.50h7.64v7.64h-7.64zM2035.96 374.50h22.52v7.64h-22.52zM2065.73 374.50h7.64v7.64h-7.64zM2095.50 374.50h15.08v7.64h-15.08zM2117.82 374.50h7.64v7.64h-7.64zM2132.70 374.50h15.08v7.64h-15.08zM2155.03 374.50h15.08v7.64h-15.08zM2184.79 374.50h7.64v7.64h-7.64zM1946.67 381.94h15.08v7.64h-15.08zM1968.99 381.94h29.97v7.64h-29.97zM2006.20 381.94h7.64v7.64h-7.64zM2021.08 381.94h22.52v7.64h-22.52zM2065.73 381.94h15.08v7.64h-15.08zM2110.38 381.94h22.52v7.64h-22.52zM2140.14 381.94h7.64v7.64h-7.64zM2169.91 381.94h15.08v7.64h-15.08zM2192.23 381.94h7.64v7.64h-7.64zM2207.12 381.94h7.64v7.64h-7.64zM1954.11 389.38h22.52v7.64h-22.52zM1983.87 389.38h22.52v7.64h-22.52zM2035.96 389.38h7.64v7.64h-7.64zM2050.85 389.38h7.64v7.64h-7.64zM2065.73 389.38h7.64v7.64h-7.64zM2095.50 389.38h22.52v7.64h-22.52zM2132.70 389.38h7.64v7.64h-7.64zM2155.03 389.38h7.64v7.64h-7.64zM2192.23 389.38h15.08v7.64h-15.08zM1924.34 396.82h7.64v7.64h-7.64zM1946.67 396.82h7.64v7.64h-7.64zM1976.43 396.82h15.08v7.64h-15.08zM2006.20 396.82h7.64v7.64h-7.64zM2028.52 396.82h7.64v7.64h-7.64zM2058.29 396.82h15.08v7.64h-15.08zM2080.61 396.82h37.41v7.64h-37.41zM2125.26 396.82h7.64v7.64h-7.64zM2140.14 396.82h7.64v7.64h-7.64zM2169.91 396.82h22.52v7.64h-22.52zM2207.12 396.82h15.08v7.64h-15.08zM1916.90 404.26h52.29v7.64h-52.29zM1991.31 404.26h7.64v7.64h-7.64zM2006.20 404.26h22.52v7.64h-22.52zM2043.40 404.26h29.97v7.64h-29.97zM2080.61 404.26h29.97v7.64h-29.97zM2155.03 404.26h15.08v7.64h-15.08zM2184.79 404.26h22.52v7.64h-22.52zM1916.90 411.70h15.08v7.64h-15.08zM1939.22 411.70h22.52v7.64h-22.52zM1968.99 411.70h15.08v7.64h-15.08zM2013.64 411.70h15.08v7.64h-15.08zM2035.96 411.70h15.08v7.64h-15.08zM2058.29 411.70h22.52v7.64h-22.52zM2088.05 411.70h15.08v7.64h-15.08zM2147.59 411.70h22.52v7.64h-22.52zM2177.35 411.70h22.52v7.64h-22.52zM2214.56 411.70h7.64v7.64h-7.64zM1924.34 419.15h7.64v7.64h-7.64zM1939.22 419.15h15.08v7.64h-15.08zM1961.55 419.15h15.08v7.64h-15.08zM1983.87 419.15h7.64v7.64h-7.64zM1998.76 419.15h7.64v7.64h-7.64zM2013.64 419.15h29.97v7.64h-29.97zM2065.73 419.15h7.64v7.64h-7.64zM2080.61 419.15h7.64v7.64h-7.64zM2095.50 419.15h7.64v7.64h-7.64zM2110.38 419.15h22.52v7.64h-22.52zM2140.14 419.15h7.64v7.64h-7.64zM2155.03 419.15h7.64v7.64h-7.64zM2177.35 419.15h7.64v7.64h-7.64zM2199.68 419.15h7.64v7.64h-7.64zM2214.56 419.15h7.64v7.64h-7.64zM1939.22 426.59h7.64v7.64h-7.64zM1983.87 426.59h15.08v7.64h-15.08zM2006.20 426.59h7.64v7.64h-7.64zM2028.52 426.59h7.64v7.64h-7.64zM2043.40 426.59h7.64v7.64h-7.64zM2102.94 426.59h15.08v7.64h-15.08zM2125.26 426.59h7.64v7.64h-7.64zM2147.59 426.59h15.08v7.64h-15.08zM2169.91 426.59h22.52v7.64h-22.52zM2199.68 426.59h22.52v7.64h-22.52zM1924.34 434.03h15.08v7.64h-15.08zM1954.11 434.03h15.08v7.64h-15.08zM2013.64 434.03h7.64v7.64h-7.64zM2028.52 434.03h7.64v7.64h-7.64zM2043.40 434.03h7.64v7.64h-7.64zM2058.29 434.03h7.64v7.64h-7.64zM2080.61 434.03h22.52v7.64h-22.52zM2117.82 434.03h7.64v7.64h-7.64zM2140.14 434.03h7.64v7.64h-7.64zM2155.03 434.03h7.64v7.64h-7.64zM2177.35 434.03h22.52v7.64h-22.52zM1954.11 441.47h7.64v7.64h-7.64zM1968.99 441.47h15.08v7.64h-15.08zM1998.76 441.47h15.08v7.64h-15.08zM2028.52 441.47h7.64v7.64h-7.64zM2043.40 441.47h22.52v7.64h-22.52zM2080.61 441.47h22.52v7.64h-22.52zM2110.38 441.47h22.52v7.64h-22.52zM2177.35 441.47h22.52v7.64h-22.52zM2207.12 441.47h7.64v7.64h-7.64zM1954.11 448.91h15.08v7.64h-15.08zM1976.43 448.91h15.08v7.64h-15.08zM1998.76 448.91h7.64v7.64h-7.64zM2035.96 448.91h15.08v7.64h-15.08zM2058.29 448.91h22.52v7.64h-22.52zM2088.05 448.91h15.08v7.64h-15.08zM2110.38 448.91h7.64v7.64h-7.64zM2132.70 448.91h7.64v7.64h-7.64zM2147.59 448.91h7.64v7.64h-7.64zM2192.23 448.91h15.08v7.64h-15.08zM1916.90 456.35h44.85v7.64h-44.85zM1968.99 456.35h7.64v7.64h-7.64zM1983.87 456.35h7.64v7.64h-7.64zM1998.76 456.35h7.64v7.64h-7.64zM2021.08 456.35h7.64v7.64h-7.64zM2050.85 456.35h7.64v7.64h-7.64zM2095.50 456.35h7.64v7.64h-7.64zM2125.26 456.35h7.64v7.64h-7.64zM2147.59 456.35h52.29v7.64h-52.29zM2207.12 456.35h15.08v7.64h-15.08zM1916.90 463.80h7.64v7.64h-7.64zM1931.78 463.80h22.52v7.64h-22.52zM1961.55 463.80h29.97v7.64h-29.97zM1998.76 463.80h22.52v7.64h-22.52zM2028.52 463.80h7.64v7.64h-7.64zM2043.40 463.80h59.73v7.64h-59.73zM2110.38 463.80h29.97v7.64h-29.97zM2169.91 463.80h15.08v7.64h-15.08zM2192.23 463.80h7.64v7.64h-7.64zM2207.12 463.80h15.08v7.64h-15.08zM1931.78 471.24h22.52v7.64h-22.52zM1983.87 471.24h22.52v7.64h-22.52zM2021.08 471.24h7.64v7.64h-7.64zM2035.96 471.24h7.64v7.64h-7.64zM2065.73 471.24h15.08v7.64h-15.08zM2095.50 471.24h7.64v7.64h-7.64zM2125.26 471.24h7.64v7.64h-7.64zM2147.59 471.24h7.64v7.64h-7.64zM2162.47 471.24h37.41v7.64h-37.41zM2214.56 471.24h7.64v7.64h-7.64zM1916.90 478.68h7.64v7.64h-7.64zM1939.22 478.68h37.41v7.64h-37.41zM1983.87 478.68h22.52v7.64h-22.52zM2028.52 478.68h15.08v7.64h-15.08zM2050.85 478.68h44.85v7.64h-44.85zM2117.82 478.68h22.52v7.64h-22.52zM2147.59 478.68h22.52v7.64h-22.52zM2199.68 478.68h7.64v7.64h-7.64zM2214.56 478.68h7.64v7.64h-7.64zM1916.90 486.12h22.52v7.64h-22.52zM1946.67 486.12h15.08v7.64h-15.08zM1976.43 486.12h7.64v7.64h-7.64zM1991.31 486.12h22.52v7.64h-22.52zM2035.96 486.12h7.64v7.64h-7.64zM2058.29 486.12h29.97v7.64h-29.97zM2095.50 486.12h22.52v7.64h-22.52zM2125.26 486.12h7.64v7.64h-7.64zM2147.59 486.12h7.64v7.64h-7.64zM2162.47 486.12h7.64v7.64h-7.64zM2177.35 486.12h15.08v7.64h-15.08zM2199.68 486.12h7.64v7.64h-7.64zM1916.90 493.56h7.64v7.64h-7.64zM1931.78 493.56h15.08v7.64h-15.08zM1961.55 493.56h22.52v7.64h-22.52zM1998.76 493.56h7.64v7.64h-7.64zM2013.64 493.56h7.64v7.64h-7.64zM2050.85 493.56h15.08v7.64h-15.08zM2073.17 493.56h15.08v7.64h-15.08zM2117.82 493.56h15.08v7.64h-15.08zM2162.47 493.56h7.64v7.64h-7.64zM2177.35 493.56h7.64v7.64h-7.64zM1916.90 501.00h7.64v7.64h-7.64zM1946.67 501.00h7.64v7.64h-7.64zM1998.76 501.00h7.64v7.64h-7.64zM2028.52 501.00h37.41v7.64h-37.41zM2073.17 501.00h29.97v7.64h-29.97zM2117.82 501.00h7.64v7.64h-7.64zM2155.03 501.00h15.08v7.64h-15.08zM2184.79 501.00h15.08v7.64h-15.08zM2207.12 501.00h15.08v7.64h-15.08zM1916.90 508.44h7.64v7.64h-7.64zM1931.78 508.44h15.08v7.64h-15.08zM1954.11 508.44h15.08v7.64h-15.08zM1976.43 508.44h15.08v7.64h-15.08zM2006.20 508.44h37.41v7.64h-37.41zM2050.85 508.44h15.08v7.64h-15.08zM2080.61 508.44h7.64v7.64h-7.64zM2095.50 508.44h44.85v7.64h-44.85zM2147.59 508.44h7.64v7.64h-7.64zM2177.35 508.44h7.64v7.64h-7.64zM2192.23 508.44h15.08v7.64h-15.08zM2214.56 508.44h7.64v7.64h-7.64zM1916.90 515.89h7.64v7.64h-7.64zM1931.78 515.89h7.64v7.64h-7.64zM1946.67 515.89h7.64v7.64h-7.64zM1998.76 515.89h29.97v7.64h-29.97zM2035.96 515.89h15.08v7.64h-15.08zM2065.73 515.89h15.08v7.64h-15.08zM2088.05 515.89h7.64v7.64h-7.64zM2102.94 515.89h22.52v7.64h-22.52zM2132.70 515.89h29.97v7.64h-29.97zM2169.91 515.89h29.97v7.64h-29.97zM2207.12 515.89h15.08v7.64h-15.08zM1916.90 523.33h7.64v7.64h-7.64zM1931.78 523.33h22.52v7.64h-22.52zM1961.55 523.33h7.64v7.64h-7.64zM1976.43 523.33h29.97v7.64h-29.97zM2013.64 523.33h15.08v7.64h-15.08zM2043.40 523.33h7.64v7.64h-7.64zM2065.73 523.33h29.97v7.64h-29.97zM2110.38 523.33h15.08v7.64h-15.08zM2132.70 523.33h7.64v7.64h-7.64zM2147.59 523.33h52.29v7.64h-52.29zM1976.43 530.77h7.64v7.64h-7.64zM1998.76 530.77h7.64v7.64h-7.64zM2021.08 530.77h15.08v7.64h-15.08zM2043.40 530.77h7.64v7.64h-7.64zM2058.29 530.77h7.64v7.64h-7.64zM2073.17 530.77h22.52v7.64h-22.52zM2117.82 530.77h44.85v7.64h-44.85zM2184.79 530.77h15.08v7.64h-15.08zM2214.56 530.77h7.64v7.64h-7.64zM1916.90 538.21h52.29v7.64h-52.29zM1983.87 538.21h7.64v7.64h-7.64zM2006.20 538.21h7.64v7.64h-7.64zM2028.52 538.21h7.64v7.64h-7.64zM2058.29 538.21h52.29v7.64h-52.29zM2117.82 538.21h22.52v7.64h-22.52zM2155.03 538.21h7.64v7.64h-7.64zM2169.91 538.21h7.64v7.64h-7.64zM2184.79 538.21h7.64v7.64h-7.64zM2199.68 538.21h7.64v7.64h-7.64zM1916.90 545.65h7.64v7.64h-7.64zM1961.55 545.65h7.64v7.64h-7.64zM1983.87 545.65h15.08v7.64h-15.08zM2006.20 545.65h37.41v7.64h-37.41zM2080.61 545.65h15.08v7.64h-15.08zM2102.94 545.65h7.64v7.64h-7.64zM2125.26 545.65h37.41v7.64h-37.41zM2184.79 545.65h37.41v7.64h-37.41zM1916.90 553.09h7.64v7.64h-7.64zM1931.78 553.09h22.52v7.64h-22.52zM1961.55 553.09h7.64v7.64h-7.64zM1976.43 553.09h7.64v7.64h-7.64zM1991.31 553.09h29.97v7.64h-29.97zM2028.52 553.09h22.52v7.64h-22.52zM2058.29 553.09h22.52v7.64h-22.52zM2088.05 553.09h15.08v7.64h-15.08zM2117.82 553.09h15.08v7.64h-15.08zM2155.03 553.09h37.41v7.64h-37.41zM2199.68 553.09h7.64v7.64h-7.64zM1916.90 560.53h7.64v7.64h-7.64zM1931.78 560.53h22.52v7.64h-22.52zM1961.55 560.53h7.64v7.64h-7.64zM1976.43 560.53h15.08v7.64h-15.08zM2006.20 560.53h15.08v7.64h-15.08zM2058.29 560.53h7.64v7.64h-7.64zM2095.50 560.53h7.64v7.64h-7.64zM2110.38 560.53h7.64v7.64h-7.64zM2125.26 560.53h7.64v7.64h-7.64zM2140.14 560.53h7.64v7.64h-7.64zM2155.03 560.53h15.08v7.64h-15.08zM2184.79 560.53h15.08v7.64h-15.08zM1916.90 567.98h7.64v7.64h-7.64zM1931.78 567.98h22.52v7.64h-22.52zM1961.55 567.98h7.64v7.64h-7.64zM1976.43 567.98h7.64v7.64h-7.64zM2006.20 567.98h7.64v7.64h-7.64zM2050.85 567.98h22.52v7.64h-22.52zM2102.94 567.98h15.08v7.64h-15.08zM2132.70 567.98h7.64v7.64h-7.64zM2147.59 567.98h7.64v7.64h-7.64zM2169.91 567.98h22.52v7.64h-22.52zM2199.68 567.98h15.08v7.64h-15.08zM1916.90 575.42h7.64v7.64h-7.64zM1961.55 575.42h7.64v7.64h-7.64zM1983.87 575.42h15.08v7.64h-15.08zM2013.64 575.42h22.52v7.64h-22.52zM2043.40 575.42h7.64v7.64h-7.64zM2080.61 575.42h22.52v7.64h-22.52zM2110.38 575.42h7.64v7.64h-7.64zM2147.59 575.42h15.08v7.64h-15.08zM2177.35 575.42h7.64v7.64h-7.64zM2192.23 575.42h15.08v7.64h-15.08zM2214.56 575.42h7.64v7.64h-7.64zM1916.90 582.86h52.29v7.64h-52.29zM1983.87 582.86h7.64v7.64h-7.64zM2013.64 582.86h29.97v7.64h-29.97zM2080.61 582.86h15.08v7.64h-15.08zM2110.38 582.86h29.97v7.64h-29.97zM2147.59 582.86h7.64v7.64h-7.64zM2162.47 582.86h29.97v7.64h-29.97z" fill="#000"/></g>
<g id="carpet">
<path d="M 2011 843 L 2133.5 843 L 2300 1239 L 1838.5 1239 Z" fill="url(#gCarpet)"/>
<g id="stR"><path d="M 2200.7 712.0 L 2200.7 857.1 M 2213.6 791.0 L 2213.6 857.1 M 2201.3 857.8 L 2213.6 857.1" fill="none" stroke="#000" stroke-width="3.0" stroke-linecap="round" stroke-linejoin="round" />
<circle cx="2207.8" cy="685.5" r="12.3" fill="#fff" stroke="#000" stroke-width="3.0"/>
<path d="M 2202.9 696.8 Q 2203.2 703.2 2195.5 706.5 Q 2192.9 710.3 2199.7 711.0 L 2217.4 711.0 Q 2223.2 709.7 2220.0 705.8 Q 2212.9 702.6 2213.9 696.8" fill="#fff" stroke="#000" stroke-width="3.0" stroke-linecap="round" stroke-linejoin="round" />
<path d="M 2199.7 853.9 Q 2196.5 865.2 2181.9 871.0 M 2215.8 853.9 Q 2220.7 865.2 2233.6 870.0" fill="none" stroke="#000" stroke-width="3.0" stroke-linecap="round" stroke-linejoin="round" />
<path d="M 2185.2 866.8 Q 2169.7 870.0 2169.0 876.5 L 2169.0 884.6 Q 2173.9 895.9 2207.8 896.8 Q 2243.2 895.9 2248.1 884.6 L 2248.1 874.9 Q 2246.5 869.1 2232.0 866.8" fill="none" stroke="#000" stroke-width="3.0" stroke-linecap="round" stroke-linejoin="round" />
<path d="M 2172.3 882.0 Q 2207.8 893.6 2244.9 879.7" fill="none" stroke="#000" stroke-width="3.0" stroke-linecap="round" stroke-linejoin="round" />
<path d="M 2209.4 723.9 Q 2208.7 718.4 2214.9 718.4 Q 2220.7 719.4 2223.2 731.6 L 2212.6 737.4 Q 2208.7 730.3 2209.4 723.9 Z" fill="#fff" stroke="#000" stroke-width="3.0" stroke-linecap="round" stroke-linejoin="round" />
<path d="M 2223.2 732.3 Q 2227.1 765.2 2233.6 787.8 Q 2244.9 765.2 2252.3 735.5" fill="none" stroke="#000" stroke-width="3.0" stroke-linecap="round" stroke-linejoin="round" />
<path d="M 2212.6 737.8 Q 2215.8 774.9 2224.5 796.8 Q 2236.8 810.4 2249.7 794.2 Q 2259.4 774.9 2263.2 757.1" fill="none" stroke="#000" stroke-width="3.0" stroke-linecap="round" stroke-linejoin="round" />
<path d="M 2264.2 708.7 Q 2255.5 708.7 2253.6 717.4 L 2251.3 734.9 L 2264.5 732.9" fill="none" stroke="#000" stroke-width="3.0" stroke-linecap="round" stroke-linejoin="round" />
<path d="M 2267.4 702.3 L 2264.2 934.6 M 2285.2 768.4 L 2290.0 934.6 M 2270.7 934.9 L 2283.9 933.6" fill="none" stroke="#000" stroke-width="3.7" stroke-linecap="round" stroke-linejoin="round" />
<circle cx="2277.8" cy="661.3" r="21.0" fill="#fff" stroke="#000" stroke-width="3.7"/>
<path d="M 2269.7 680.7 Q 2271.6 690.3 2256.8 696.1 Q 2252.3 700.7 2260.0 701.6 L 2294.9 701.6 Q 2303.9 700.7 2298.1 695.8 Q 2284.5 690.3 2286.8 680.7" fill="#fff" stroke="#000" stroke-width="3.7" stroke-linecap="round" stroke-linejoin="round" />
<path d="M 2301.3 731.3 Q 2319.1 787.8 2340.0 826.5 Q 2349.7 839.4 2365.8 844.2 M 2285.2 737.8 Q 2294.9 774.9 2314.2 813.6 Q 2333.6 845.8 2365.8 860.4" fill="none" stroke="#000" stroke-width="3.7" stroke-linecap="round" stroke-linejoin="round" />
<path d="M 2279.4 717.4 Q 2281.3 709.7 2290.0 710.3 Q 2298.1 713.6 2301.3 729.7 L 2284.2 736.1 Q 2278.7 727.1 2279.4 717.4 Z" fill="#fff" stroke="#000" stroke-width="3.7" stroke-linecap="round" stroke-linejoin="round" />
<path d="M 2262.6 928.1 Q 2259.4 945.9 2232.0 961.3 M 2291.6 928.1 Q 2298.1 947.5 2322.3 960.4" fill="none" stroke="#000" stroke-width="3.7" stroke-linecap="round" stroke-linejoin="round" />
<path d="M 2238.4 949.1 Q 2213.6 953.9 2212.6 963.6 L 2212.6 983.0 Q 2220.7 1000.7 2275.5 1002.3 Q 2333.6 1000.7 2342.6 981.3 L 2342.6 963.6 Q 2340.0 953.9 2314.2 949.1" fill="none" stroke="#000" stroke-width="3.7" stroke-linecap="round" stroke-linejoin="round" />
<path d="M 2222.3 974.9 Q 2275.5 992.6 2336.8 968.4" fill="none" stroke="#000" stroke-width="3.7" stroke-linecap="round" stroke-linejoin="round" /></g>
<g transform="translate(4138 0) scale(-1 1)"><path d="M 2200.7 712.0 L 2200.7 857.1 M 2213.6 791.0 L 2213.6 857.1 M 2201.3 857.8 L 2213.6 857.1" fill="none" stroke="#000" stroke-width="3.0" stroke-linecap="round" stroke-linejoin="round" />
<circle cx="2207.8" cy="685.5" r="12.3" fill="#fff" stroke="#000" stroke-width="3.0"/>
<path d="M 2202.9 696.8 Q 2203.2 703.2 2195.5 706.5 Q 2192.9 710.3 2199.7 711.0 L 2217.4 711.0 Q 2223.2 709.7 2220.0 705.8 Q 2212.9 702.6 2213.9 696.8" fill="#fff" stroke="#000" stroke-width="3.0" stroke-linecap="round" stroke-linejoin="round" />
<path d="M 2199.7 853.9 Q 2196.5 865.2 2181.9 871.0 M 2215.8 853.9 Q 2220.7 865.2 2233.6 870.0" fill="none" stroke="#000" stroke-width="3.0" stroke-linecap="round" stroke-linejoin="round" />
<path d="M 2185.2 866.8 Q 2169.7 870.0 2169.0 876.5 L 2169.0 884.6 Q 2173.9 895.9 2207.8 896.8 Q 2243.2 895.9 2248.1 884.6 L 2248.1 874.9 Q 2246.5 869.1 2232.0 866.8" fill="none" stroke="#000" stroke-width="3.0" stroke-linecap="round" stroke-linejoin="round" />
<path d="M 2172.3 882.0 Q 2207.8 893.6 2244.9 879.7" fill="none" stroke="#000" stroke-width="3.0" stroke-linecap="round" stroke-linejoin="round" />
<path d="M 2209.4 723.9 Q 2208.7 718.4 2214.9 718.4 Q 2220.7 719.4 2223.2 731.6 L 2212.6 737.4 Q 2208.7 730.3 2209.4 723.9 Z" fill="#fff" stroke="#000" stroke-width="3.0" stroke-linecap="round" stroke-linejoin="round" />
<path d="M 2223.2 732.3 Q 2227.1 765.2 2233.6 787.8 Q 2244.9 765.2 2252.3 735.5" fill="none" stroke="#000" stroke-width="3.0" stroke-linecap="round" stroke-linejoin="round" />
<path d="M 2212.6 737.8 Q 2215.8 774.9 2224.5 796.8 Q 2236.8 810.4 2249.7 794.2 Q 2259.4 774.9 2263.2 757.1" fill="none" stroke="#000" stroke-width="3.0" stroke-linecap="round" stroke-linejoin="round" />
<path d="M 2264.2 708.7 Q 2255.5 708.7 2253.6 717.4 L 2251.3 734.9 L 2264.5 732.9" fill="none" stroke="#000" stroke-width="3.0" stroke-linecap="round" stroke-linejoin="round" />
<path d="M 2267.4 702.3 L 2264.2 934.6 M 2285.2 768.4 L 2290.0 934.6 M 2270.7 934.9 L 2283.9 933.6" fill="none" stroke="#000" stroke-width="3.7" stroke-linecap="round" stroke-linejoin="round" />
<circle cx="2277.8" cy="661.3" r="21.0" fill="#fff" stroke="#000" stroke-width="3.7"/>
<path d="M 2269.7 680.7 Q 2271.6 690.3 2256.8 696.1 Q 2252.3 700.7 2260.0 701.6 L 2294.9 701.6 Q 2303.9 700.7 2298.1 695.8 Q 2284.5 690.3 2286.8 680.7" fill="#fff" stroke="#000" stroke-width="3.7" stroke-linecap="round" stroke-linejoin="round" />
<path d="M 2301.3 731.3 Q 2319.1 787.8 2340.0 826.5 Q 2349.7 839.4 2365.8 844.2 M 2285.2 737.8 Q 2294.9 774.9 2314.2 813.6 Q 2333.6 845.8 2365.8 860.4" fill="none" stroke="#000" stroke-width="3.7" stroke-linecap="round" stroke-linejoin="round" />
<path d="M 2279.4 717.4 Q 2281.3 709.7 2290.0 710.3 Q 2298.1 713.6 2301.3 729.7 L 2284.2 736.1 Q 2278.7 727.1 2279.4 717.4 Z" fill="#fff" stroke="#000" stroke-width="3.7" stroke-linecap="round" stroke-linejoin="round" />
<path d="M 2262.6 928.1 Q 2259.4 945.9 2232.0 961.3 M 2291.6 928.1 Q 2298.1 947.5 2322.3 960.4" fill="none" stroke="#000" stroke-width="3.7" stroke-linecap="round" stroke-linejoin="round" />
<path d="M 2238.4 949.1 Q 2213.6 953.9 2212.6 963.6 L 2212.6 983.0 Q 2220.7 1000.7 2275.5 1002.3 Q 2333.6 1000.7 2342.6 981.3 L 2342.6 963.6 Q 2340.0 953.9 2314.2 949.1" fill="none" stroke="#000" stroke-width="3.7" stroke-linecap="round" stroke-linejoin="round" />
<path d="M 2222.3 974.9 Q 2275.5 992.6 2336.8 968.4" fill="none" stroke="#000" stroke-width="3.7" stroke-linecap="round" stroke-linejoin="round" /></g>
</g>
<g id="texts" font-family="'Liberation Sans', sans-serif" fill="#000">
<text x="134.5" y="635.9" font-size="66.3" font-weight="200" textLength="326" lengthAdjust="spacingAndGlyphs" font-family="'DejaVu Sans', 'Liberation Sans', sans-serif" stroke="#000" stroke-width="1.2" stroke-linejoin="miter">РОССИЯ</text>
<text x="630.3" y="139.9" font-size="84.6" font-weight="200" textLength="66.7" lengthAdjust="spacingAndGlyphs" font-family="'DejaVu Sans', 'Liberation Sans', sans-serif" stroke="#000" stroke-width="0.8">6</text>
<text x="694.45" y="136.9" font-size="34" font-weight="400" stroke="#000" stroke-width="7.6" stroke-linejoin="round">.</text>
<text x="724.3" y="524.6" font-size="84.5" font-weight="200" textLength="62.7" lengthAdjust="spacingAndGlyphs" font-family="'DejaVu Sans', 'Liberation Sans', sans-serif" stroke="#000" stroke-width="0.8">7</text>
<text x="769.35" y="522.3" font-size="34" font-weight="400" stroke="#000" stroke-width="7.6" stroke-linejoin="round">.</text>
<text x="728.0" y="102.3" font-size="35.2" font-weight="700" textLength="219.5" lengthAdjust="spacingAndGlyphs" stroke="#fff" stroke-width="0.55">Go through</text>
<text x="728.0" y="140.0" font-size="35.2" font-weight="400" textLength="265.5" lengthAdjust="spacingAndGlyphs" stroke="#fff" stroke-width="0.75">border control</text>
<text x="799.5" y="524.4" font-size="35.5" font-weight="700" textLength="219.6" lengthAdjust="spacingAndGlyphs" stroke="#fff" stroke-width="0.55">Visit a bank</text>
<text x="800.0" y="566.0" font-size="33.5" font-weight="400" textLength="232.0" lengthAdjust="spacingAndGlyphs" stroke="#fff" stroke-width="0.75">within 10 days</text>
<text x="799.8" y="733.0" font-size="35.5" font-weight="700" textLength="235.3" lengthAdjust="spacingAndGlyphs" stroke="#fff" stroke-width="0.55">and confirm</text>
<text x="800.0" y="770.9" font-size="35.0" font-weight="400" textLength="290.6" lengthAdjust="spacingAndGlyphs" stroke="#fff" stroke-width="0.75">your biometrics</text>
<text x="1231.2" y="102.0" font-size="34.2" font-weight="700" textLength="225.4" lengthAdjust="spacingAndGlyphs" stroke="#fff" stroke-width="0.55">What’s next</text>
<text x="1252.2" y="173.3" font-size="34.3" font-weight="400" textLength="404.4" lengthAdjust="spacingAndGlyphs" stroke="#fff" stroke-width="0.75">Confirm your account</text>
<text x="1258.2" y="211.0" font-size="34.3" font-weight="400" textLength="241.9" lengthAdjust="spacingAndGlyphs" stroke="#fff" stroke-width="0.75">on Gosuslugi</text>
<text x="1252.2" y="276.3" font-size="34.3" font-weight="400" textLength="269.5" lengthAdjust="spacingAndGlyphs" stroke="#fff" stroke-width="0.75">Get a SIM card</text>
<text x="1252.4" y="342.2" font-size="34.3" font-weight="400" textLength="351.6" lengthAdjust="spacingAndGlyphs" stroke="#fff" stroke-width="0.75">Use online services</text>
<circle cx="1237.6" cy="164.8" r="6"/>
<circle cx="1237.6" cy="266.7" r="6"/>
<circle cx="1237.6" cy="332.0" r="6"/>
<text x="1956.2" y="242.7" font-size="35.0" font-weight="700" textLength="219.1" lengthAdjust="spacingAndGlyphs" stroke="#fff" stroke-width="0.55">Learn more</text>
</g>
</svg>
</body></html>
